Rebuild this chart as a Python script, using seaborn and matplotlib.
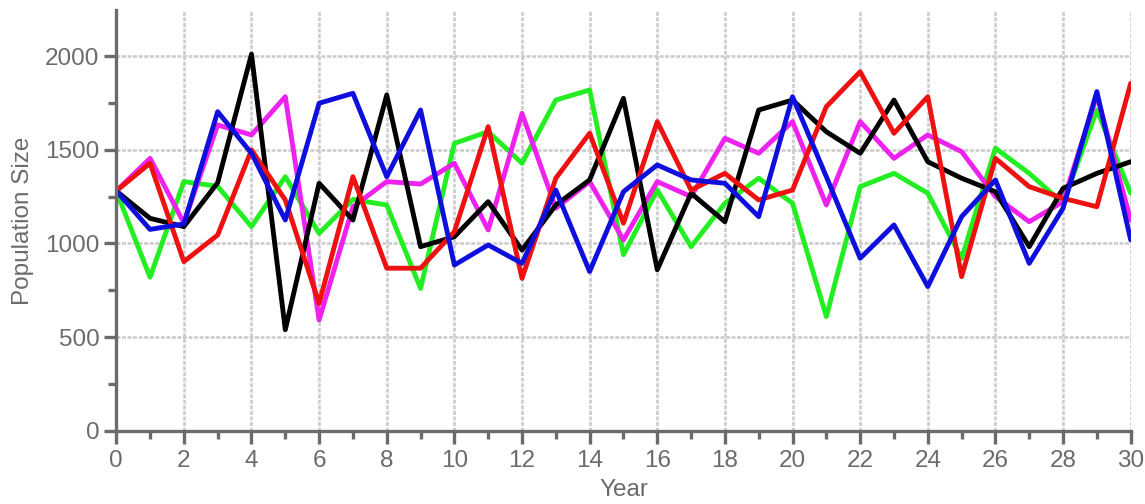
import matplotlib
matplotlib.use("Agg")
import matplotlib.pyplot as plt
import numpy as np
import pandas as pd
import seaborn as sns
from matplotlib.ticker import MultipleLocator

years = list(range(31))

green = [1280, 820, 1330, 1305, 1090, 1356, 1054, 1235, 1205, 760,
         1534, 1596, 1428, 1765, 1819, 940, 1285, 983, 1214, 1348,
         1214, 610, 1303, 1374, 1268, 920, 1508, 1374, 1214, 1712, 1268]
magenta = [1280, 1454, 1110, 1632, 1579, 1783, 592, 1196, 1330, 1317,
           1428, 1072, 1694, 1188, 1330, 1019, 1330, 1250, 1561, 1481,
           1650, 1205, 1650, 1454, 1579, 1490, 1250, 1116, 1223, 1790, 1125]
black = [1280, 1134, 1090, 1324, 2010, 540, 1321, 1125, 1792, 983,
         1036, 1223, 965, 1205, 1339, 1774, 860, 1268, 1116, 1712,
         1765, 1596, 1481, 1765, 1436, 1348, 1276, 983, 1294, 1374, 1436]
red = [1280, 1428, 903, 1045, 1499, 1232, 680, 1356, 868, 868,
       1063, 1623, 814, 1348, 1588, 1108, 1650, 1285, 1374, 1232,
       1285, 1730, 1916, 1588, 1783, 823, 1454, 1303, 1241, 1196, 1854]
blue = [1280, 1075, 1104, 1703, 1481, 1125, 1748, 1801, 1356, 1712,
        885, 992, 894, 1285, 850, 1276, 1419, 1339, 1321, 1143,
        1783, 1356, 921, 1099, 770, 1143, 1339, 894, 1188, 1810, 1019]

series = [("green", green, "#22ee22"),
          ("magenta", magenta, "#ee22ee"),
          ("black", black, "#000000"),
          ("red", red, "#ee1111"),
          ("blue", blue, "#0f0fdd")]

sns.set_style("white")
plt.rcParams['font.family'] = ['Liberation Sans', 'DejaVu Sans']
grey = "#6b6b6b"

fig = plt.figure(figsize=(11.45, 5.04), dpi=100)
ax = fig.add_axes([0.1015, 0.145, 0.886, 0.835])

for name, vals, col in series:
    df = pd.DataFrame({"Year": years, "Population Size": vals})
    sns.lineplot(data=df, x="Year", y="Population Size", color=col,
                 linewidth=3.5, ax=ax, zorder=3)

ax.set_xlim(0, 30)
ax.set_ylim(0, 2245)
ax.xaxis.set_major_locator(MultipleLocator(2))
ax.xaxis.set_minor_locator(MultipleLocator(1))
ax.yaxis.set_major_locator(MultipleLocator(500))
ax.yaxis.set_minor_locator(MultipleLocator(250))

ax.grid(True, which="major", color="#cccccc", linestyle=(0, (1.5, 0.6)), linewidth=1.9, zorder=0)
sns.despine(ax=ax)
for s in ["left", "bottom"]:
    ax.spines[s].set_color(grey)
    ax.spines[s].set_linewidth(2.4)
    ax.spines[s].set_zorder(4)

ax.tick_params(which="major", direction="out", length=9, width=2.4, color=grey,
               labelcolor=grey, labelsize=17.5, pad=3)
ax.tick_params(which="minor", direction="out", length=6, width=2.4, color=grey)
ax.tick_params(axis="x", which="both", bottom=True)
ax.tick_params(axis="x", which="major", pad=5)
ax.tick_params(axis="y", which="both", left=True)

ax.set_xlabel("Year", fontsize=17.5, color=grey, labelpad=5)
ax.set_ylabel("Population Size", fontsize=17.5, color=grey, labelpad=8)

fig.savefig("out.png", dpi=100)
